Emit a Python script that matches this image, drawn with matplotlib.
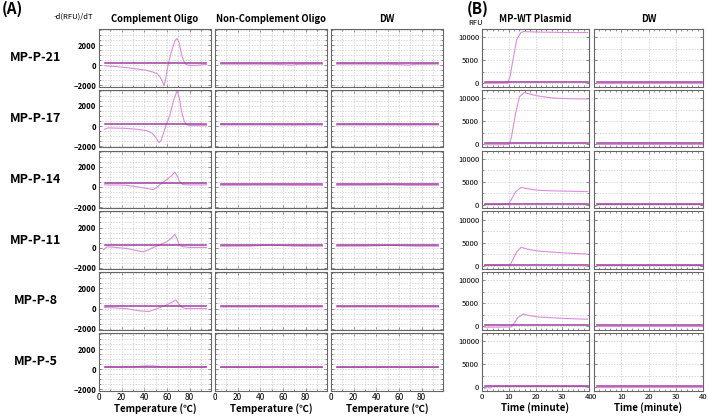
import matplotlib
matplotlib.use("Agg")
import matplotlib.pyplot as plt
from matplotlib.ticker import MultipleLocator

plt.rcParams['font.family'] = ['Noto Sans CJK KR', 'DejaVu Sans']

# ---------------- data ----------------
row_labels = ["MP-P-21", "MP-P-17", "MP-P-14", "MP-P-11", "MP-P-8", "MP-P-5"]
a_titles = ["Complement Oligo", "Non-Complement Oligo", "DW"]
b_titles = ["MP-WT Plasmid", "DW"]

# Panel A, complement oligo melt curves (-d(RFU)/dT vs temperature)
comp_x = [
    [5, 15, 25, 35, 42, 48, 51, 54, 56, 57.6, 59, 61, 64, 67, 69, 71, 73, 75, 77, 80, 85, 90, 95],
    [5, 8, 15, 24, 35, 42, 47, 50, 53, 55, 57, 59, 62.6, 66, 69, 71, 73, 75, 77, 80, 85, 95],
    [5, 15, 24, 36, 42, 48, 51, 54, 60, 64, 67, 69, 71, 74, 80, 95],
    [4, 7, 12, 24, 32, 39, 44, 48, 55, 60, 64, 67, 69, 71, 74, 80, 95],
    [5, 15, 25, 36, 44, 51, 56, 60, 64, 68, 70, 72, 76, 85, 95],
    [5, 20, 35, 42, 48, 55, 65, 95],
]
comp_y = [
    [-50, -120, -240, -380, -500, -680, -800, -1150, -1600, -2050, -1300, 0, 1370, 2400, 2670, 2200, 1030, 400, 80, 0, 0, 40, 100],
    [-300, -180, -200, -220, -330, -440, -700, -1100, -1630, -1400, -700, 0, 1080, 2600, 3500, 2800, 1420, 600, 150, 50, 50, 50],
    [200, 190, 170, -30, -150, -270, -50, 230, 730, 1100, 1470, 1100, 570, 230, 200, 200],
    [-200, 80, 60, -70, -250, -400, -200, 30, 350, 600, 950, 1330, 900, 270, 100, 30, 30],
    [100, 60, -30, -230, -300, -30, 200, 370, 600, 830, 550, 200, 0, 0, 0],
    [230, 230, 280, 340, 330, 250, 230, 230],
]
comp_flat = [200, 180, 400, 270, 200, 230]

# Panel A, non-complement and DW (nearly flat)
ctrl_x = [5, 30, 50, 60, 68, 75, 95]
noncomp_y = [
    [120, 120, 110, 60, 30, 100, 120],
    [120, 120, 120, 110, 100, 110, 120],
    [150, 160, 170, 160, 150, 150, 150],
    [150, 160, 260, 220, 170, 150, 150],
    [150, 150, 150, 140, 130, 140, 150],
    [200, 200, 230, 210, 200, 200, 200],
]
dw_a_y = [
    [120, 120, 110, 70, 30, 100, 120],
    [120, 120, 120, 110, 100, 110, 120],
    [150, 160, 200, 180, 150, 150, 150],
    [150, 160, 230, 210, 170, 150, 150],
    [150, 150, 150, 140, 130, 140, 150],
    [200, 200, 220, 210, 200, 200, 200],
]
ctrl_flat = [230, 230, 300, 270, 230, 230]

# Panel B, amplification curves (RFU vs time)
amp_x = [
    [1, 5, 9.6, 10.5, 11.7, 13, 14.5, 15.5, 17, 20, 25, 30, 35, 39.5],
    [1, 5, 10.2, 11, 12.5, 14, 15.9, 17, 20.5, 26.7, 33, 39.5],
    [1, 5, 9.8, 11, 12.5, 14.6, 17, 20.5, 25, 30, 39.5],
    [1, 5, 10.5, 11.5, 13, 14.6, 17, 20.5, 26.7, 33, 39.5],
    [1, 5, 11, 12, 13.5, 15.5, 17.5, 20.5, 26.7, 33, 39.5],
    [1, 2, 3, 4, 6, 10, 20, 30, 39.5],
]
amp_y = [
    [0, 0, 50, 1500, 5500, 9500, 11000, 11250, 11200, 11150, 11100, 11050, 11030, 11030],
    [-150, -150, -100, 1500, 6500, 10300, 11250, 11000, 10500, 10000, 9850, 9800],
    [70, 70, 100, 1200, 2800, 3800, 3500, 3200, 3070, 3000, 2900],
    [70, 70, 100, 1300, 3000, 4000, 3600, 3230, 2920, 2700, 2540],
    [-150, -150, -100, 700, 2000, 2700, 2400, 2100, 1880, 1700, 1580],
    [-300, 100, -200, 150, 150, 150, 150, 150, 150],
]
amp_flat = [220, 150, 290, 230, 230, 370]
dw_b_x = [1, 39.5]
dw_b_curve = [100, 100]
dw_b_flat = [250, 250]

# ---------------- layout ----------------
W, H = 708, 416
fig = plt.figure(figsize=(W / 100, H / 100), dpi=100)

row_top0, row_step, row_h = 29, 60.8, 57.5
a_cols = [(99, 211), (215, 327), (331, 443)]
b_cols = [(482, 589), (594, 703)]

FLAT_C = "#9c3f9c"
CURVE_C = "#dc8ddc"
GRID_C = "#c8c8c8"


def mk_ax(x0, x1, top):
    return fig.add_axes([x0 / W, 1 - (top + row_h) / H, (x1 - x0) / W, row_h / H])


def style(ax):
    for s in ax.spines.values():
        s.set_color("#666666")
        s.set_linewidth(0.8)
    ax.grid(True, which="both", color=GRID_C, linestyle=(0, (2, 2)), linewidth=0.5)
    ax.tick_params(which="both", direction="in", length=1.5, width=0.5, color="#666666",
                   top=True, right=True, labelsize=5.5, pad=2)
    ax.tick_params(which="major", length=2)
    ax.set_axisbelow(True)


for r in range(6):
    top = row_top0 + r * row_step
    # panel A
    for c, (x0, x1) in enumerate(a_cols):
        ax = mk_ax(x0, x1, top)
        if c == 0:
            ax.plot(comp_x[r], comp_y[r], color=CURVE_C, lw=0.8)
            ax.plot([5, 95], [comp_flat[r]] * 2, color=FLAT_C, lw=1.1)
        else:
            yy = noncomp_y[r] if c == 1 else dw_a_y[r]
            ax.plot(ctrl_x, yy, color=CURVE_C, lw=0.8)
            ax.plot([5, 95], [ctrl_flat[r]] * 2, color=FLAT_C, lw=1.1)
        ax.set_xlim(0, 99)
        ax.set_ylim(-2100, 3600)
        ax.set_xticks([0, 20, 40, 60, 80])
        ax.xaxis.set_minor_locator(MultipleLocator(10))
        ax.set_yticks([-2000, 0, 2000])
        ax.yaxis.set_minor_locator(MultipleLocator(500))
        style(ax)
        if c != 0:
            ax.set_yticklabels([])
        else:
            for t in ax.get_yticklabels():
                t.set_fontweight("bold")
        if r != 5:
            ax.set_xticklabels([])
        else:
            ax.tick_params(axis="x", labelsize=6)
            ax.set_xlabel("Temperature (℃)", fontsize=7, fontweight="bold", labelpad=1)
        if r == 0:
            ax.set_title(a_titles[c], fontsize=6.8, fontweight="bold", pad=5)
    # panel B
    for c, (x0, x1) in enumerate(b_cols):
        ax = mk_ax(x0, x1, top)
        if c == 0:
            ax.plot(amp_x[r], amp_y[r], color=CURVE_C, lw=0.8)
            ax.plot([1, 39.5], [amp_flat[r]] * 2, color=FLAT_C, lw=1.1)
        else:
            ax.plot(dw_b_x, dw_b_curve, color=CURVE_C, lw=0.8)
            ax.plot(dw_b_x, dw_b_flat, color=FLAT_C, lw=1.1)
        ax.set_xlim(0, 40)
        ax.set_ylim(-700, 11800)
        ax.set_xticks([0, 10, 20, 30, 40])
        ax.xaxis.set_minor_locator(MultipleLocator(2))
        ax.set_yticks([0, 5000, 10000])
        ax.yaxis.set_minor_locator(MultipleLocator(2500))
        style(ax)
        ax.grid(False, which="minor", axis="x")
        if c != 0:
            ax.set_yticklabels([])
        if r != 5:
            ax.set_xticklabels([])
        else:
            ax.tick_params(axis="x", labelsize=5.5)
            ax.set_xlabel("Time (minute)", fontsize=7, fontweight="bold", labelpad=1)
        if r == 0:
            ax.set_title(b_titles[c], fontsize=6.8, fontweight="bold", pad=5)
    # row labels
    fig.text(36 / W, 1 - (top + row_h / 2) / H, row_labels[r], fontsize=9,
             fontweight="bold", ha="center", va="center")

fig.text(2 / W, 1 - 9 / H, "(A)", fontsize=11, fontweight="bold", ha="left", va="center")
fig.text(467 / W, 1 - 9 / H, "(B)", fontsize=11, fontweight="bold", ha="left", va="center")
fig.text(93 / W, 1 - 17 / H, "-d(RFU)/dT", fontsize=5.5, ha="right", va="center")
fig.text(468 / W, 1 - 23 / H, "RFU", fontsize=5.5, ha="left", va="center")

fig.savefig("out.png", dpi=100)
